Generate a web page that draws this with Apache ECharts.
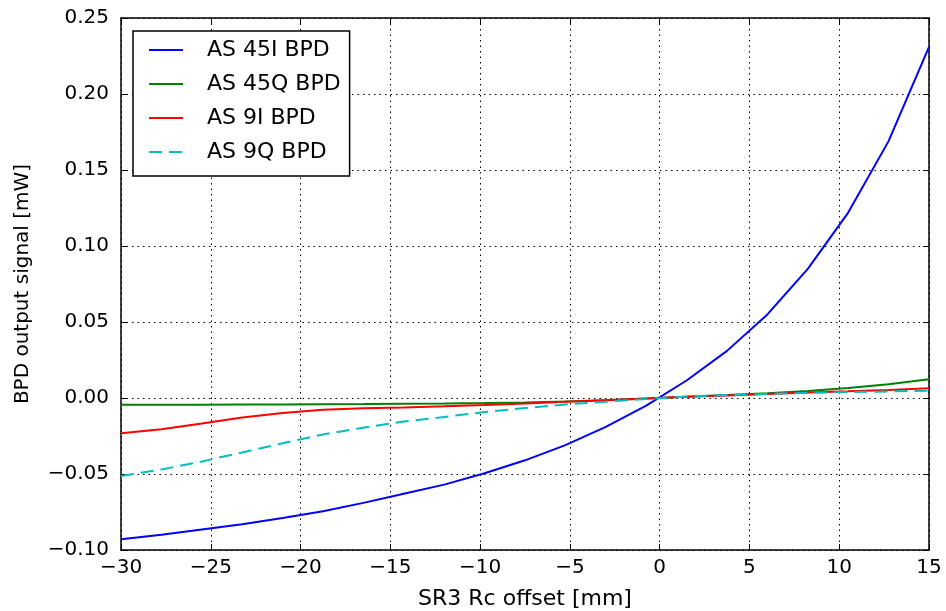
<!DOCTYPE html>
<html>
<head>
<meta charset="utf-8">
<script src="https://cdn.jsdelivr.net/npm/echarts@6/dist/echarts.min.js"></script>
<style>html,body{margin:0;padding:0;background:#fff;}#chart{width:946px;height:611px;}</style>
</head>
<body>
<div id="chart"></div>
<script>
const xValues = [-30, -27.75, -25.5, -23.25, -21, -18.75, -16.5, -14.25, -12, -9.75, -7.5, -5.25, -3, -0.75, 1.5, 3.75, 6, 8.25, 10.5, 12.75, 15];
const as45I = [-0.093, -0.090, -0.0865, -0.083, -0.079, -0.0745, -0.069, -0.063, -0.057, -0.0495, -0.041, -0.031, -0.019, -0.005, 0.0115, 0.031, 0.055, 0.085, 0.122, 0.169, 0.231];
const as45Q = [-0.0045, -0.0045, -0.0044, -0.0043, -0.0042, -0.0041, -0.0040, -0.0038, -0.0036, -0.0033, -0.0029, -0.0023, -0.0015, -0.0004, 0.0008, 0.0019, 0.0031, 0.0046, 0.0066, 0.0091, 0.0123];
const as9I = [-0.0232, -0.0205, -0.0168, -0.0128, -0.0098, -0.0078, -0.0068, -0.0062, -0.0055, -0.0046, -0.0036, -0.0025, -0.0014, -0.0003, 0.0008, 0.0017, 0.0027, 0.0036, 0.0044, 0.0053, 0.0064];
const as9Q = [-0.0513, -0.047, -0.0418, -0.0358, -0.0298, -0.024, -0.0195, -0.0155, -0.0125, -0.0092, -0.0066, -0.0043, -0.0024, -0.0006, 0.0009, 0.0019, 0.0027, 0.0034, 0.0039, 0.0043, 0.0048];
const seriesNames = ['AS 45I BPD', 'AS 45Q BPD', 'AS 9I BPD', 'AS 9Q BPD'];
const xTitle = 'SR3 Rc offset [mm]';
const yTitle = 'BPD output signal [mW]';

const FONT = 'DejaVu Sans';
const pair = arr => xValues.map((x, i) => [x, arr[i]]);
const fmtX = v => (v < 0 ? '\u2212' : '') + Math.abs(v).toString();
const fmtY = v => { if (Math.abs(v) < 1e-9) return '0.00'; return (v < 0 ? '\u2212' : '') + Math.abs(v).toFixed(2); };

const gridLine = { show: true, lineStyle: { color: '#000', type: [1.5, 4], width: 1 } };
const tick = { show: true, inside: true, length: 6, lineStyle: { color: '#000', width: 1 } };
const axLine = { show: true, onZero: false, lineStyle: { color: '#000', width: 1.5 } };

const chart = echarts.init(document.getElementById('chart'), null, { renderer: 'canvas' });
const mk = (name, data, color, dash) => ({
  name, type: 'line', data: pair(data), symbol: 'none', smooth: false,
  lineStyle: { color, width: 2, type: dash || 'solid' }, itemStyle: { color },
  emphasis: { disabled: true }, z: 3
});
chart.setOption({
  animation: false,
  backgroundColor: '#fff',
  textStyle: { fontFamily: FONT },
  grid: { left: 121, right: 17, top: 18, bottom: 61, containLabel: false, outerBoundsMode: 'none' },
  legend: {
    orient: 'vertical', left: 133, top: 31,
    padding: [8, 9, 13, 15],
    itemWidth: 34, itemHeight: 14, itemGap: 12,
    itemStyle: { opacity: 0, borderWidth: 0 },
    backgroundColor: '#fff', borderColor: '#000', borderWidth: 1.5, borderRadius: 0,
    textStyle: { fontFamily: FONT, fontSize: 22, color: '#000', lineHeight: 20, padding: [0, 0, 0, 19] },
    data: seriesNames
  },
  xAxis: [
    { type: 'value', min: -30, max: 15, interval: 5, position: 'bottom',
      name: xTitle, nameLocation: 'middle', nameGap: 38,
      nameTextStyle: { fontFamily: FONT, fontSize: 22, color: '#000' },
      axisLabel: { formatter: fmtX, fontFamily: FONT, fontSize: 20, color: '#000', margin: 8 },
      axisLine: axLine, axisTick: tick, splitLine: gridLine },
    { type: 'value', min: -30, max: 15, interval: 5, position: 'top',
      axisLabel: { show: false }, axisLine: axLine, axisTick: tick, splitLine: { show: false } }
  ],
  yAxis: [
    { type: 'value', min: -0.1, max: 0.25, interval: 0.05, position: 'left',
      name: yTitle, nameLocation: 'middle', nameGap: 88, nameRotate: 90,
      nameTextStyle: { fontFamily: FONT, fontSize: 20, color: '#000' },
      axisLabel: { formatter: fmtY, fontFamily: FONT, fontSize: 20, color: '#000', margin: 12 },
      axisLine: axLine, axisTick: tick, splitLine: gridLine },
    { type: 'value', min: -0.1, max: 0.25, interval: 0.05, position: 'right',
      axisLabel: { show: false }, axisLine: axLine, axisTick: tick, splitLine: { show: false } }
  ],
  series: [
    mk(seriesNames[0], as45I, '#0000ff'),
    mk(seriesNames[1], as45Q, '#008000'),
    mk(seriesNames[2], as9I, '#ff0000'),
    mk(seriesNames[3], as9Q, '#00bfbf', [13, 7])
  ]
});
</script>
</body>
</html>
